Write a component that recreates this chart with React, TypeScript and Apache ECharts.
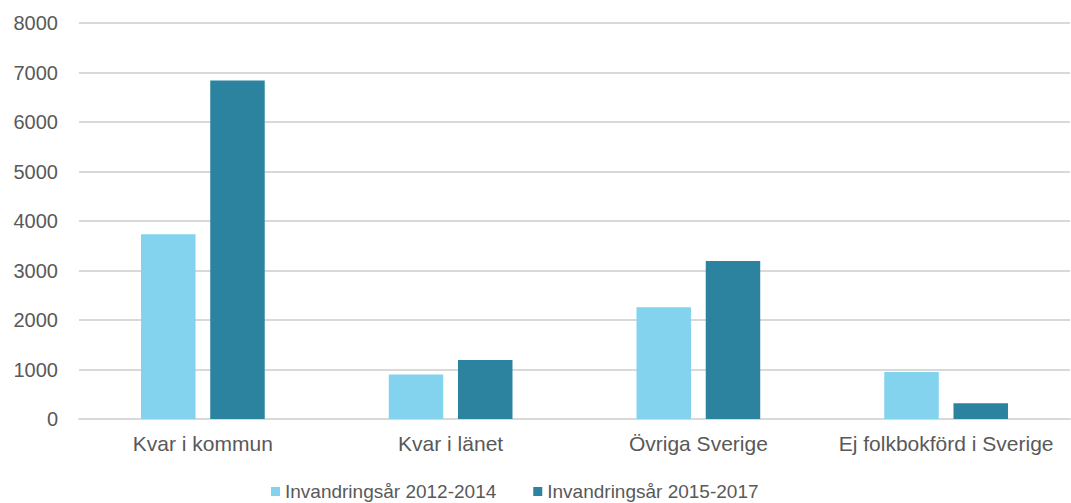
import React, { useEffect, useRef } from "react";
import * as echarts from "echarts";

const categories = ["Kvar i kommun", "Kvar i länet", "Övriga Sverige", "Ej folkbokförd i Sverige"];
const seriesNames = ["Invandringsår 2012-2014", "Invandringsår 2015-2017"];
const values2012 = [3730, 900, 2260, 950];
const values2015 = [6840, 1190, 3190, 320];
const colors = ["#83D3EE", "#2B83A0"];

export default function App() {
  const ref = useRef<HTMLDivElement>(null);
  useEffect(() => {
    const chart = echarts.init(ref.current!, null, { renderer: "svg" });
    const font = "'Liberation Sans', Arial, sans-serif";
    chart.setOption({
      animation: false,
      textStyle: { fontFamily: font },
      grid: { left: 79, right: 1, top: 23, bottom: 84, containLabel: false },
      legend: {
        data: seriesNames,
        left: 271,
        top: 482,
        icon: "rect",
        itemWidth: 9,
        itemHeight: 9,
        itemGap: 37,
        textStyle: { color: "#595959", fontSize: 19, fontFamily: font, lineHeight: 19, padding: [0, 0, 0, 0] },
        padding: 0,
      },
      xAxis: {
        type: "category",
        data: categories,
        axisLine: { show: true, lineStyle: { color: "#D9D9D9", width: 2 } },
        axisTick: { show: false },
        axisLabel: { color: "#595959", fontSize: 21, margin: 14, interval: 0, fontFamily: font },
      },
      yAxis: {
        type: "value",
        min: 0,
        max: 8000,
        interval: 1000,
        axisLine: { show: false },
        axisTick: { show: false },
        splitLine: { lineStyle: { color: "#D9D9D9", width: 2 } },
        axisLabel: {
          color: "#595959",
          fontSize: 20,
          margin: 21,
          fontFamily: font,
          formatter: (v: number) => String(v),
        },
      },
      series: [
        {
          name: seriesNames[0],
          type: "bar",
          data: values2012,
          itemStyle: { color: colors[0] },
          barWidth: "22%",
          barGap: "27%",
        },
        {
          name: seriesNames[1],
          type: "bar",
          data: values2015,
          itemStyle: { color: colors[1] },
          barWidth: "22%",
          barGap: "27%",
        },
      ],
    });
    return () => chart.dispose();
  }, []);
  return <div ref={ref} style={{ width: 1071, height: 503, position: "absolute", left: 0, top: 0 }} />;
}
